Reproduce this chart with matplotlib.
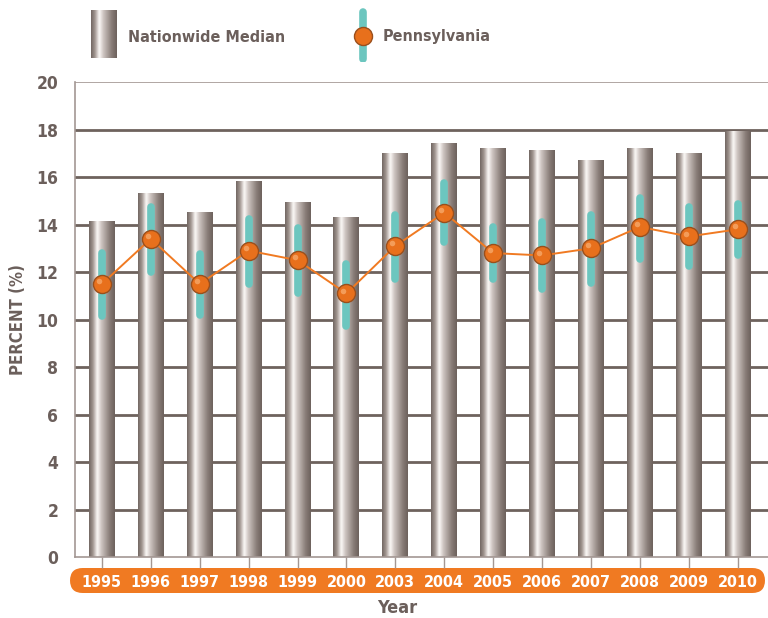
import numpy as np
import matplotlib.pyplot as plt
from matplotlib.colors import LinearSegmentedColormap
from matplotlib.patches import FancyBboxPatch
from matplotlib.lines import Line2D

plt.rcParams['font.family'] = ['DejaVu Sans']
plt.rcParams['font.stretch'] = 'condensed'

years = ['1995', '1996', '1997', '1998', '1999', '2000', '2003', '2004',
         '2005', '2006', '2007', '2008', '2009', '2010']
nationwide = [14.1, 15.3, 14.5, 15.8, 14.9, 14.3, 17.0, 17.4,
              17.2, 17.1, 16.7, 17.2, 17.0, 17.9]
penn = [11.5, 13.4, 11.5, 12.9, 12.5, 11.1, 13.1, 14.5,
        12.8, 12.7, 13.0, 13.9, 13.5, 13.8]
penn_low = [10.15, 12.0, 10.2, 11.5, 11.1, 9.75, 11.7, 13.25,
            11.7, 11.3, 11.55, 12.55, 12.25, 12.7]
penn_high = [12.8, 14.75, 12.75, 14.25, 13.85, 12.35, 14.4, 15.75,
             13.9, 14.1, 14.4, 15.1, 14.75, 14.85]

text_col = '#6b5f5b'
grid_col = '#6e625d'
frame_col = '#a39793'
orange = '#f07a22'
teal = '#6cc6bf'

# cylinder shading for the bars
cyl = LinearSegmentedColormap.from_list('cyl', [
    (0.0, '#716661'), (0.15, '#a0958f'), (0.32, '#fdfaf8'),
    (0.48, '#cdc4c0'), (0.8, '#887c77'), (1.0, '#6c615c')])
grad = np.linspace(0, 1, 256).reshape(1, -1)

fig = plt.figure(figsize=(7.68, 6.18), dpi=100)
ax = fig.add_axes([75 / 768, (618 - 557.2) / 618, 693 / 768, (557.2 - 82) / 618])

x = np.arange(len(years))
width = 0.53
bars = ax.bar(x, nationwide, width=width, color='none', zorder=2)
for b in bars:
    x0, w, h = b.get_x(), b.get_width(), b.get_height()
    ax.imshow(grad, cmap=cyl, aspect='auto', extent=[x0, x0 + w, 0, h],
              zorder=2, interpolation='bicubic')

# pennsylvania ranges and points
ax.vlines(x, penn_low, penn_high, colors=teal, linewidth=5.5,
          capstyle='round', zorder=3)
ax.plot(x, penn, color=orange, linewidth=1.4, zorder=4)
ax.plot(x, penn, 'o', markersize=13, markerfacecolor='#e8701c',
        markeredgecolor='#9a4f1c', markeredgewidth=1.0, zorder=5)
ax.plot(x - 0.06, np.array(penn) + 0.12, 'o', markersize=4,
        markerfacecolor='#f7a869', markeredgewidth=0, alpha=0.8, zorder=6)

ax.set_xlim(-0.55, 13.62)
ax.set_ylim(0, 20)
ax.set_yticks(np.arange(0, 21, 2))
for v in range(2, 19, 2):
    ax.axhline(v, color=grid_col, linewidth=2, zorder=1)
ax.axhline(20, color=frame_col, linewidth=1.2, zorder=1)

for s in ['top', 'right']:
    ax.spines[s].set_visible(False)
ax.spines['left'].set_color(frame_col)
ax.spines['bottom'].set_color(frame_col)
ax.spines['left'].set_linewidth(1.2)
ax.spines['bottom'].set_linewidth(1.2)

ax.tick_params(axis='y', length=0, pad=12, labelsize=12.5, labelcolor=text_col)
for t in ax.get_yticklabels():
    t.set_fontweight('bold')
ax.set_xticks(x)
ax.set_xticklabels(years)
ax.tick_params(axis='x', length=8, color=frame_col, width=1, pad=5,
               labelsize=11.5, labelcolor='white')
for t in ax.get_xticklabels():
    t.set_fontweight('bold')

# orange band behind year labels
pill = FancyBboxPatch((70 / 768, (618 - 593) / 618), 695 / 768, 25 / 618,
                      boxstyle='round,pad=0,rounding_size=0.0165',
                      transform=fig.transFigure, facecolor=orange,
                      edgecolor='none', zorder=-1, mutation_aspect=768 / 618)
fig.patches.append(pill)

fig.text(397 / 768, 1 - 608 / 618, 'Year', ha='center', va='center',
         fontsize=13, fontweight='bold', color=text_col)
fig.text(18 / 768, 1 - 320 / 618, 'PERCENT (%)', rotation=90, ha='center',
         va='center', fontsize=12, fontweight='bold', color=text_col)

# legend
lax = fig.add_axes([0, 1 - 62 / 618, 1, 62 / 618])
lax.set_xlim(0, 768)
lax.set_ylim(62, 0)
lax.axis('off')
lax.imshow(grad, cmap=cyl, aspect='auto', extent=[91, 117, 58, 10],
           interpolation='bicubic')
lax.text(128, 37, 'Nationwide Median', va='center', ha='left', fontsize=11.5,
         fontweight='bold', color=text_col)
lax.add_line(Line2D([363, 363], [12, 59], color=teal, linewidth=5.5,
                    solid_capstyle='round'))
lax.plot([363], [36], 'o', markersize=13, markerfacecolor='#e8701c',
         markeredgecolor='#9a4f1c', markeredgewidth=1.0)
lax.text(383, 37, 'Pennsylvania', va='center', ha='left', fontsize=11.5,
         fontweight='bold', color=text_col)

fig.savefig('out.png', dpi=100)
